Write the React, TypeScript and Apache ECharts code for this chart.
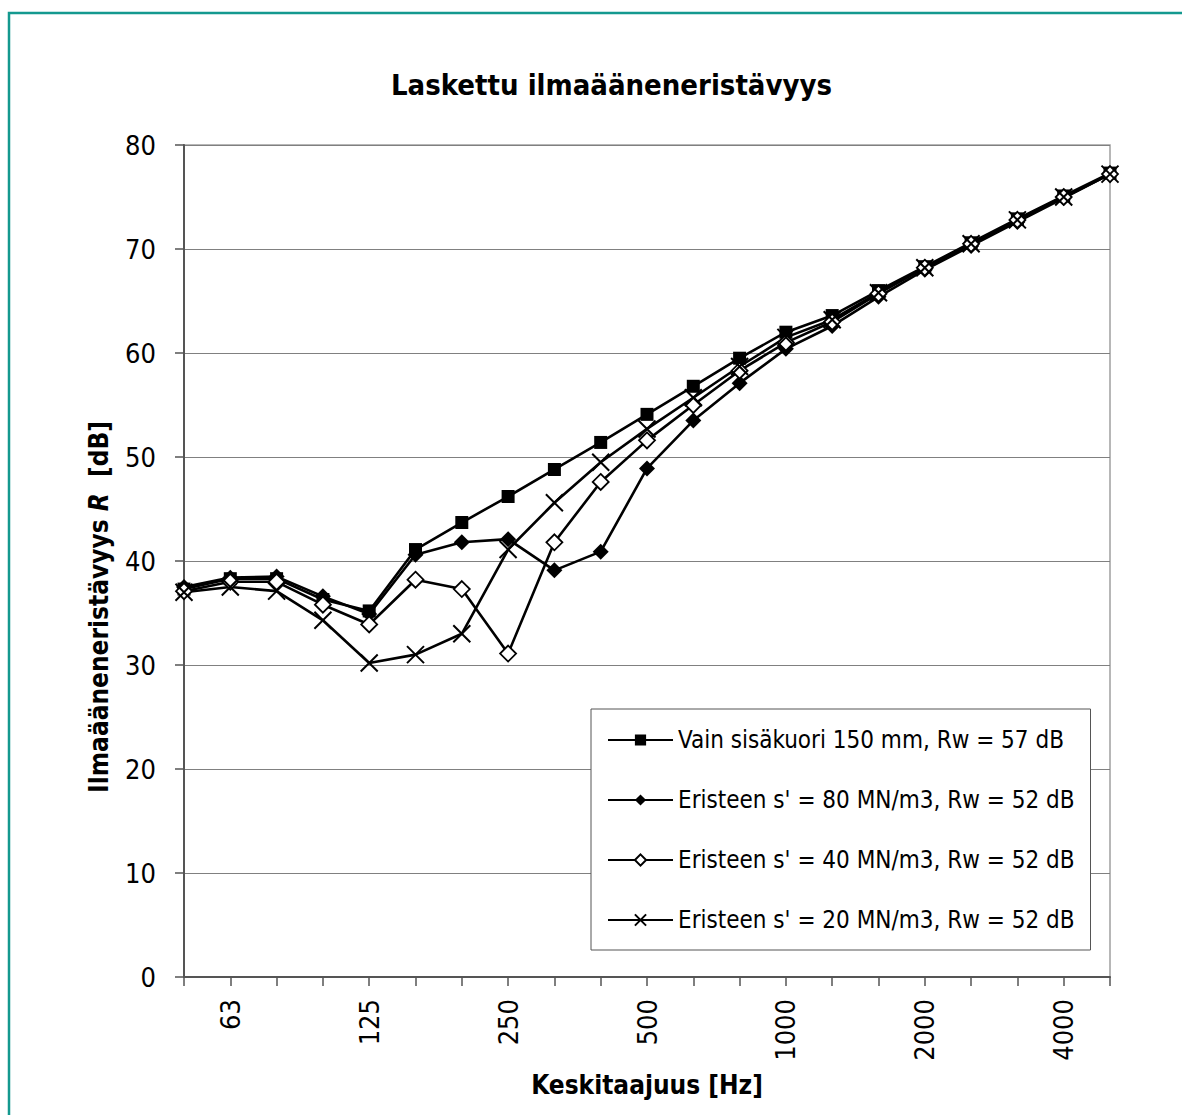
import React, { useEffect, useRef } from "react";
import * as echarts from "echarts";

const categories = ["50", "63", "80", "100", "125", "160", "200", "250", "315", "400", "500", "630", "800", "1000", "1250", "1600", "2000", "2500", "3150", "4000", "5000"];
const labelledBands = ["63", "125", "250", "500", "1000", "2000", "4000"];
const yTicks = { min: 0, max: 80, interval: 10 };

const seriesNames = [
  "Vain sisäkuori 150 mm, Rw = 57 dB",
  "Eristeen s' = 80 MN/m3, Rw = 52 dB",
  "Eristeen s' = 40 MN/m3, Rw = 52 dB",
  "Eristeen s' = 20 MN/m3, Rw = 52 dB",
];

const innerShell = [37.3, 38.3, 38.3, 36.3, 35.2, 41.1, 43.7, 46.2, 48.8, 51.4, 54.1, 56.8, 59.5, 62.0, 63.6, 66.0, 68.3, 70.6, 72.9, 75.1, 77.3];
const s80 = [37.5, 38.4, 38.5, 36.6, 34.9, 40.6, 41.8, 42.1, 39.1, 40.9, 48.9, 53.5, 57.1, 60.4, 62.6, 65.4, 68.0, 70.3, 72.6, 74.9, 77.2];
const s40 = [37.1, 38.0, 38.0, 35.8, 33.9, 38.2, 37.3, 31.1, 41.8, 47.6, 51.6, 55.0, 58.3, 61.0, 63.0, 65.7, 68.2, 70.5, 72.8, 75.0, 77.2];
const s20 = [37.0, 37.5, 37.1, 34.3, 30.2, 31.0, 33.0, 41.1, 45.6, 49.5, 52.7, 55.7, 58.7, 61.5, 63.2, 65.8, 68.2, 70.5, 72.8, 75.0, 77.2];

const FONT = "Tahoma, 'DejaVu Sans Condensed', 'DejaVu Sans', sans-serif";
const CROSS = "path://M0,0L16,16M16,0L0,16";

export default function App() {
  const ref = useRef<HTMLDivElement>(null);
  useEffect(() => {
    document.body.style.margin = "0";
    if (!ref.current) return;
    const chart = echarts.init(ref.current, null, { renderer: "svg" });
    const line = { color: "#000", width: 2.6 };
    chart.setOption({
      animation: false,
      backgroundColor: "#fff",
      textStyle: { fontFamily: FONT, color: "#000" },
      graphic: [
        {
          type: "rect",
          shape: { x: 9, y: 13, width: 1300, height: 1300 },
          style: { fill: "none", stroke: "#14998f", lineWidth: 2.5 },
          silent: true,
        },
      ],
      title: {
        text: "Laskettu ilmaääneneristävyys",
        left: 386,
        top: 65,
        textStyle: { fontFamily: FONT, fontSize: 29, fontWeight: "bold", color: "#000" },
      },
      grid: {
        left: 184,
        top: 145,
        width: 926,
        height: 832,
        show: true,
        borderColor: "#a0a0a0",
        borderWidth: 1.5,
        backgroundColor: "#fff",
      },
      legend: {
        orient: "vertical",
        left: 591,
        top: 709,
        padding: [16, 16, 15, 16],
        itemGap: 30,
        itemWidth: 65,
        itemHeight: 14,
        backgroundColor: "#fff",
        borderColor: "#555",
        borderWidth: 1,
        textStyle: { fontFamily: FONT, fontSize: 24, color: "#000", lineHeight: 30 },
        data: seriesNames,
      },
      xAxis: {
        type: "category",
        data: categories,
        boundaryGap: false,
        name: "Keskitaajuus [Hz]",
        nameLocation: "middle",
        nameGap: 95,
        nameTextStyle: { fontFamily: FONT, fontSize: 26, fontWeight: "bold", color: "#000" },
        axisLine: { lineStyle: { color: "#555", width: 2 } },
        axisTick: { interval: 0, length: 9, lineStyle: { color: "#555", width: 1.5 } },
        axisLabel: {
          interval: (idx: number, val: string) => labelledBands.includes(val),
          rotate: 90,
          margin: 22,
          fontSize: 27,
          fontFamily: FONT,
          color: "#000",
        },
        splitLine: { show: false },
      },
      yAxis: {
        type: "value",
        min: yTicks.min,
        max: yTicks.max,
        interval: yTicks.interval,
        name: "Ilmaääneneristävyys {i|R}  [dB]",
        nameLocation: "middle",
        nameGap: 72,
        nameRotate: 90,
        nameTextStyle: {
          fontFamily: FONT,
          fontSize: 26,
          fontWeight: "bold",
          color: "#000",
          padding: [0, 92, 0, 0],
          rich: { i: { fontFamily: FONT, fontSize: 26, fontWeight: "bold", fontStyle: "italic", color: "#000" } },
        },
        axisLine: { show: true, lineStyle: { color: "#555", width: 2 } },
        axisTick: { show: true, length: 9, lineStyle: { color: "#555", width: 1.5 } },
        axisLabel: { margin: 28, fontSize: 27, fontFamily: FONT, color: "#000" },
        splitLine: { show: true, lineStyle: { color: "#808080", width: 1.2 } },
      },
      series: [
        {
          name: seriesNames[0],
          type: "line",
          data: innerShell,
          symbol: "rect",
          symbolSize: 13,
          lineStyle: line,
          itemStyle: { color: "#000" },
        },
        {
          name: seriesNames[1],
          type: "line",
          data: s80,
          symbol: "diamond",
          symbolSize: 16,
          lineStyle: line,
          itemStyle: { color: "#000" },
        },
        {
          name: seriesNames[2],
          type: "line",
          data: s40,
          symbol: "diamond",
          symbolSize: 16,
          lineStyle: line,
          itemStyle: { color: "#fff", borderColor: "#000", borderWidth: 1.8 },
        },
        {
          name: seriesNames[3],
          type: "line",
          data: s20,
          symbol: CROSS,
          symbolSize: 17,
          lineStyle: line,
          itemStyle: { color: "#000", borderColor: "#000", borderWidth: 2 },
        },
      ],
    });
    return () => chart.dispose();
  }, []);
  return <div ref={ref} style={{ width: 1182, height: 1115 }} />;
}
